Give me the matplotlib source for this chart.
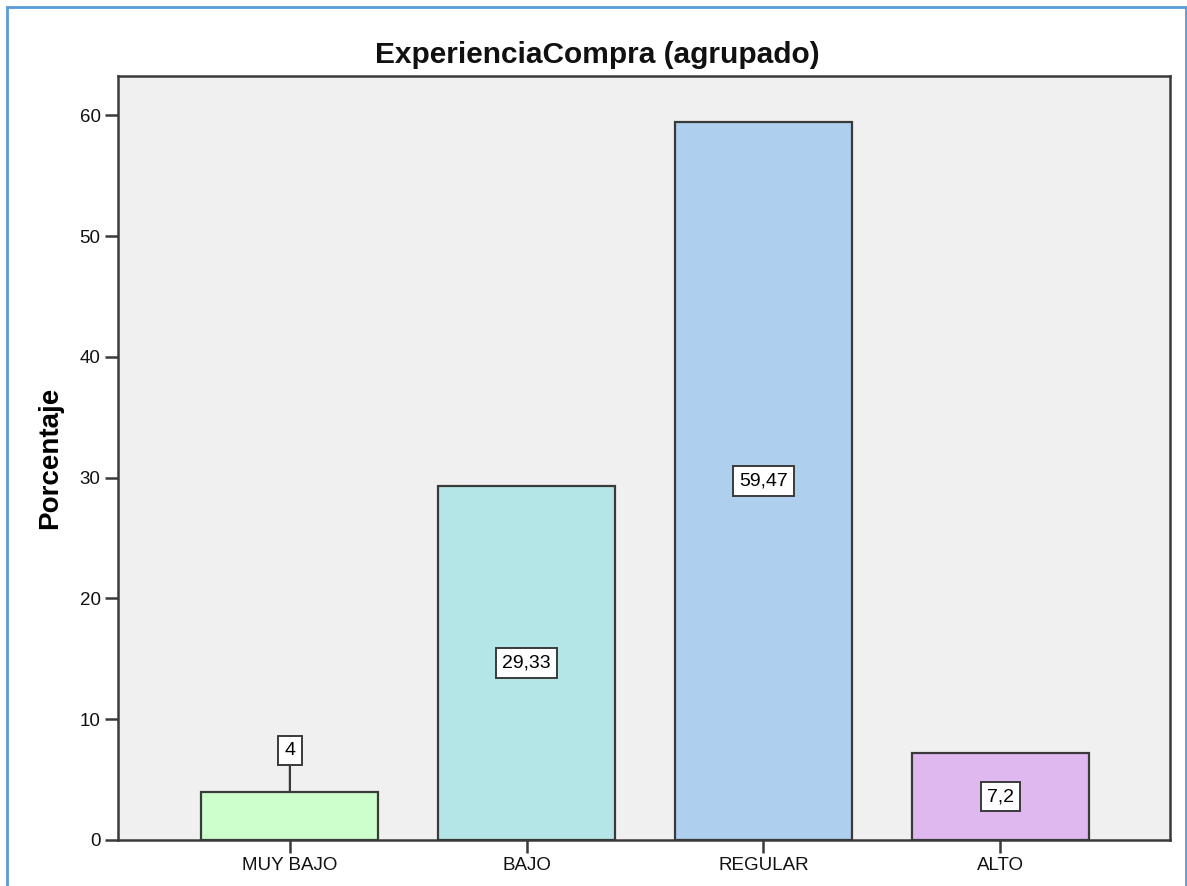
import matplotlib.pyplot as plt
from matplotlib.patches import Rectangle

# Frequency table, percentages
categories = ["MUY BAJO", "BAJO", "REGULAR", "ALTO"]
percentages = [4, 29.33, 59.47, 7.2]
value_labels = ["4", "29,33", "59,47", "7,2"]
bar_colors = ["#ccffcc", "#b4e6e8", "#aecfed", "#dfb8f0"]

plt.rcParams['font.family'] = ['Liberation Sans', 'DejaVu Sans']

fig = plt.figure(figsize=(11.87, 8.86), dpi=100)
ax = fig.add_axes([118 / 1187, 1 - 840 / 886, (1170 - 118) / 1187, (840 - 76) / 886])
ax.set_facecolor("#f0f0f0")

x = range(len(categories))
bars = ax.bar(x, percentages, width=0.747, color=bar_colors,
              edgecolor="#3a3a3a", linewidth=1.6, zorder=2)

ax.set_xlim(-0.726, 3.717)
ax.set_ylim(0, 63.25)
ax.set_yticks(range(0, 61, 10))
ax.set_xticks(list(x))
ax.set_xticklabels(categories)

for s in ax.spines.values():
    s.set_color("#3a3a3a")
    s.set_linewidth(1.8)
ax.tick_params(axis="both", direction="out", length=9.5, width=1.8,
               color="#3a3a3a", labelsize=13.5, labelcolor="#111111", pad=3)

box = dict(boxstyle="square,pad=0.32", facecolor="white", edgecolor="#3a3a3a", linewidth=1.4)
for xi, v, lbl in zip(x, percentages, value_labels):
    if v < 5:
        # small bar: label sits above, tied to the bar by a leader line
        ax.annotate(lbl, xy=(xi, v), xytext=(xi, v + 3.4), ha="center", va="center",
                    fontsize=14, bbox=box, zorder=4,
                    arrowprops=dict(arrowstyle="-", color="#3a3a3a", lw=1.6,
                                    shrinkA=0, shrinkB=0))
    else:
        ax.text(xi, v / 2, lbl, ha="center", va="center", fontsize=14,
                bbox=box, zorder=4)

ax.set_ylabel("Porcentaje", fontsize=20, fontweight="bold")
ax.yaxis.set_label_coords(-0.052, 0.5)
fig.text(597 / 1187, 1 - 55 / 886, "ExperienciaCompra (agrupado)", ha="center", va="center",
         fontsize=21.5, fontweight="bold", color="#111111")

# thin blue frame around the chart window
fig.patches.append(Rectangle((7 / 1187, -0.05), (1186 - 7) / 1187, 1.05 - 7 / 886,
                             transform=fig.transFigure, fill=False,
                             edgecolor="#5b9bd5", linewidth=2))

fig.savefig("out.png", dpi=100)
